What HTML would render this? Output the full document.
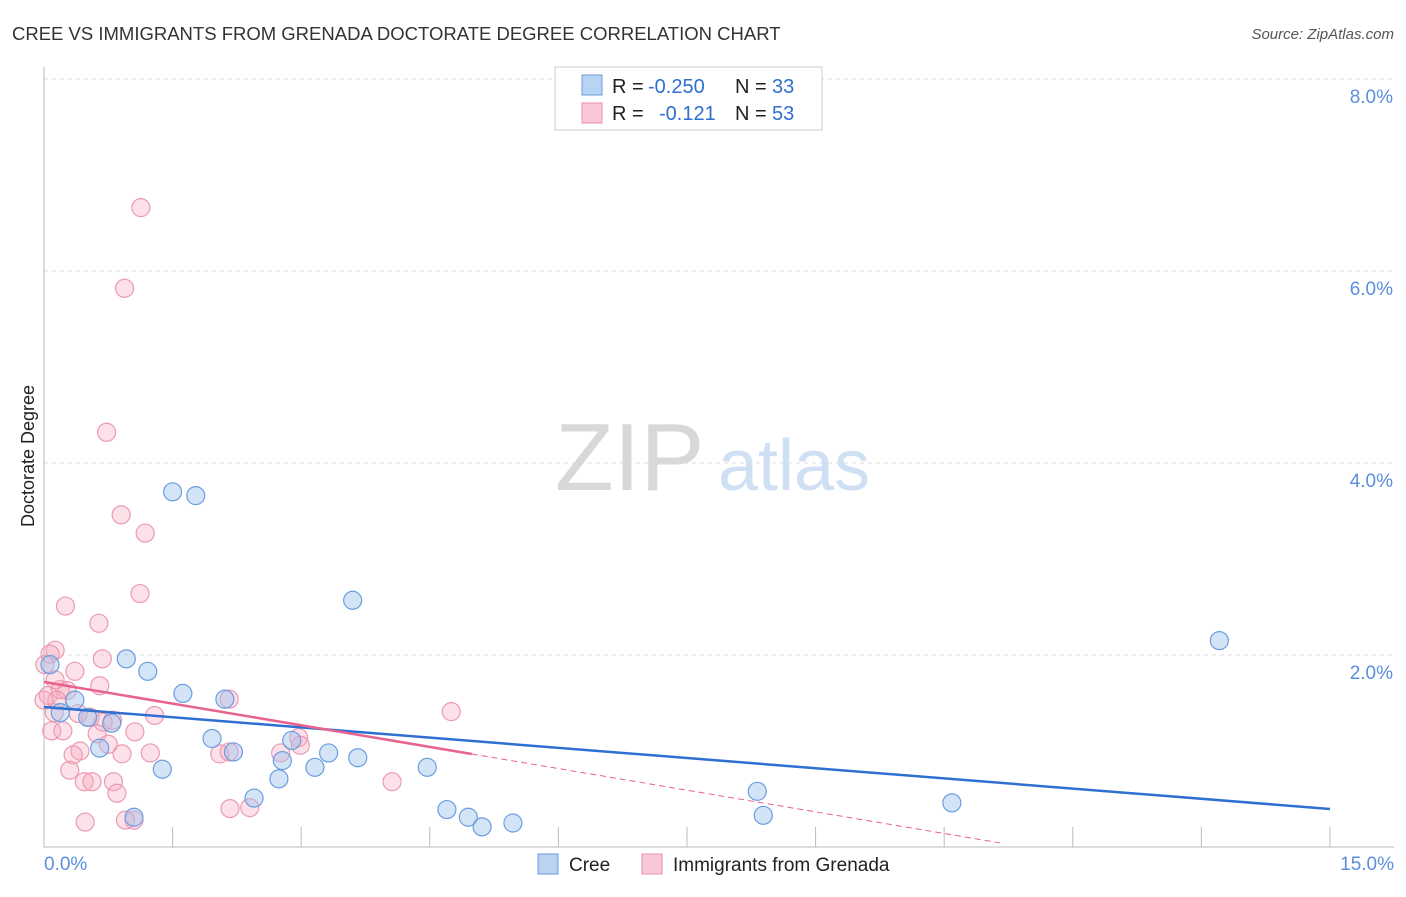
<!DOCTYPE html>
<html><head><meta charset="utf-8"><style>
body{margin:0;background:#fff;font-family:"Liberation Sans",sans-serif;}
svg text{font-family:"Liberation Sans",sans-serif;}
</style></head><body>
<svg id="chart" width="1406" height="892" xmlns="http://www.w3.org/2000/svg">
<text x="12" y="40" font-size="18.5" fill="#333">CREE VS IMMIGRANTS FROM GRENADA DOCTORATE DEGREE CORRELATION CHART</text>
<text x="1394" y="39" font-size="15" fill="#555" text-anchor="end" font-style="italic">Source: ZipAtlas.com</text>
<text transform="translate(34,456) rotate(-90)" font-size="18" fill="#222" text-anchor="middle">Doctorate Degree</text>
<g><text x="555" y="490" font-size="96" fill="#d8d8d8" font-family="Liberation Serif,serif">ZIP</text><text x="718" y="490" font-size="72" fill="#cfe0f5">atlas</text></g>
<g id="grid"></g><g id="axes"></g><g id="pts"></g><g id="lines"></g>
<g>
<rect x="555" y="67" width="267" height="63" fill="#fff" stroke="#ccc"/>
<rect x="582" y="75" width="20" height="20" fill="#b9d3f3" stroke="#6a9ee0"/>
<text x="612" y="93" font-size="20" fill="#222">R =</text>
<text x="648" y="93" font-size="20" fill="#2f6fd1">-0.250</text>
<text x="735" y="93" font-size="20" fill="#222">N =</text>
<text x="772" y="93" font-size="20" fill="#2f6fd1">33</text>
<rect x="582" y="103" width="20" height="20" fill="#f9c8d6" stroke="#ea8fa9"/>
<text x="612" y="120" font-size="20" fill="#222">R =</text>
<text x="659" y="120" font-size="20" fill="#2f6fd1">-0.121</text>
<text x="735" y="120" font-size="20" fill="#222">N =</text>
<text x="772" y="120" font-size="20" fill="#2f6fd1">53</text>
</g>
<g>
<rect x="538" y="854" width="20" height="20" fill="#b9d3f3" stroke="#6a9ee0"/>
<text x="569" y="871" font-size="19" fill="#222">Cree</text>
<rect x="642" y="854" width="20" height="20" fill="#f9c8d6" stroke="#ea8fa9"/>
<text x="673" y="871" font-size="19" fill="#222">Immigrants from Grenada</text>
</g>
</svg>
<script>
const yTicks=[2,4,6,8];
const xTickLabels=["0.0%","15.0%"];
const creeX=[1.5,1.77,3.6,13.71,0.96,1.21,1.62,2.11,0.07,0.19,0.36,0.79,0.65,0.51,1.96,2.21,1.38,2.89,2.78,2.74,3.32,3.66,3.16,4.47,4.7,4.95,5.11,5.47,8.32,8.39,10.59,2.45,1.05];
const creeY=[3.7,3.66,2.57,2.15,1.96,1.83,1.6,1.54,1.9,1.4,1.53,1.29,1.03,1.35,1.13,0.99,0.81,1.11,0.9,0.71,0.98,0.93,0.83,0.83,0.39,0.31,0.21,0.25,0.58,0.33,0.46,0.51,0.31];
const grenX=[1.13,0.94,0.73,0.9,1.18,1.12,0.25,0.64,0.13,0.68,0.36,0.05,0.19,0.27,0.65,2.16,0.12,0.4,0.54,0.69,1.29,0.09,0.22,0.62,1.06,0.42,0.34,0.75,0.91,1.24,2.05,2.16,2.76,2.97,4.75,0.3,0.47,0.56,0.81,0.85,4.06,0.95,1.05,0.48,2.17,2.4,0.15,0.01,0.07,0.13,0.8,2.99,0.0];
const grenY=[6.66,5.82,4.32,3.46,3.27,2.64,2.51,2.33,2.05,1.96,1.83,1.58,1.64,1.63,1.68,1.54,1.4,1.39,1.35,1.30,1.37,1.21,1.21,1.18,1.2,1.0,0.96,1.07,0.97,0.98,0.97,0.99,0.98,1.14,1.41,0.80,0.68,0.68,0.68,0.56,0.68,0.28,0.28,0.26,0.4,0.41,1.53,1.90,2.01,1.74,1.32,1.06,1.53];
const creeTrend=[1.458,0.396];
const grenTrend=[1.719,0.969,4.99,11.15];
const X=v=>44+v*85.73, Y=v=>847-v*96;
const NS="http://www.w3.org/2000/svg";
function mk(p,t,a){const e=document.createElementNS(NS,t);for(const k in a)e.setAttribute(k,a[k]);document.getElementById(p).appendChild(e);return e;}
yTicks.forEach(t=>{
 const l=mk('grid','line',{x1:44,x2:1394,y1:Y(t),y2:Y(t),stroke:'#ddd','stroke-dasharray':'4,4'});
 
 
 const tx=mk('axes','text',{x:1393,y:Y(t)+24,'font-size':19,fill:'#5b8fdc','text-anchor':'end'});tx.textContent=t.toFixed(1)+'%';
 
 
});
const ax=mk('axes','path',{d:'M44,67V847H1394',fill:'none',stroke:'#bbb'});


for(let i=1;i<=10;i++){const t=mk('axes','line',{x1:X(i*1.5),x2:X(i*1.5),y1:827,y2:847,stroke:'#bbb'});
 
 }
const t0=mk('axes','text',{x:44,y:870,'font-size':19,fill:'#5b8fdc'});t0.textContent=xTickLabels[0];


const t1=mk('axes','text',{x:1394,y:870,'font-size':19,fill:'#5b8fdc','text-anchor':'end'});t1.textContent=xTickLabels[1];


grenX.forEach((x,i)=>{const c=mk('pts','circle',{cx:X(x),cy:Y(grenY[i]),r:9,fill:'rgba(245,170,192,0.35)',stroke:'#ec9ab2','stroke-width':1.2});
 
 });
creeX.forEach((x,i)=>{const c=mk('pts','circle',{cx:X(x),cy:Y(creeY[i]),r:9,fill:'rgba(160,195,238,0.45)',stroke:'#6a9ee0','stroke-width':1.2});
 
 });
const bl=mk('lines','line',{x1:X(0),y1:Y(creeTrend[0]),x2:X(15),y2:Y(creeTrend[1]),stroke:'#2f6fd1','stroke-width':2.5});


const sl=(grenTrend[1]-grenTrend[0])/grenTrend[2];
const pl=mk('lines','line',{x1:X(0),y1:Y(grenTrend[0]),x2:X(grenTrend[2]),y2:Y(grenTrend[1]),stroke:'#e8638d','stroke-width':2.5});


const pd=mk('lines','line',{x1:X(grenTrend[2]),y1:Y(grenTrend[1]),x2:X(grenTrend[3]),y2:Y(grenTrend[0]+sl*grenTrend[3]),stroke:'#e8638d','stroke-width':1,'stroke-dasharray':'6,4'});


</script>
</body></html>
